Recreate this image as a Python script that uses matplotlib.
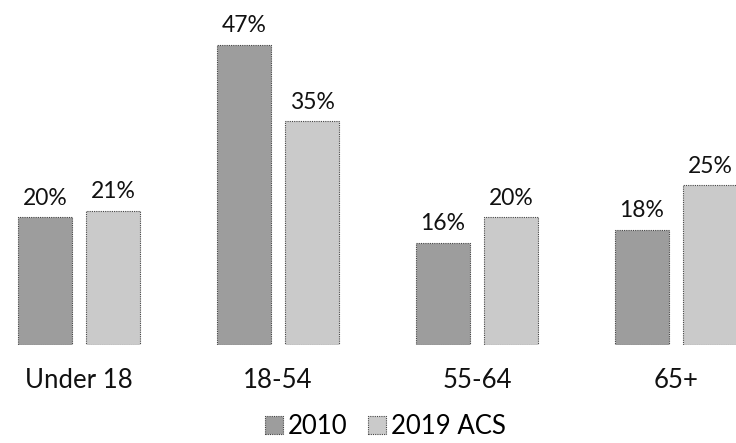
import matplotlib
matplotlib.use("Agg")
import matplotlib.pyplot as plt
import numpy as np

categories = ["Under 18", "18-54", "55-64", "65+"]
series_names = ["2010", "2019 ACS"]
values_2010 = [20, 47, 16, 18]
values_2019 = [21, 35, 20, 25]

plt.rcParams['font.family'] = ['Lato', 'DejaVu Sans']

fig = plt.figure(figsize=(7.36, 4.43), dpi=100)
ax = fig.add_axes([0, 0.221, 1, 0.779])

x = np.arange(len(categories))
w = 0.27
off = 0.171
colors = ["#9d9d9d", "#cacaca"]

for vals, sign, col, name in [(values_2010, -1, colors[0], series_names[0]),
                              (values_2019, 1, colors[1], series_names[1])]:
    bars = ax.bar(x + sign * off, vals, width=w, color=col, edgecolor="#444444",
                  linewidth=0.8, linestyle=(0, (1, 1)), label=name)
    for b, v in zip(bars, vals):
        ax.text(b.get_x() + b.get_width() / 2, v + 2.0, f"{v}%",
                ha="center", va="baseline", fontsize=16.5, color="#111111")

ax.set_xlim(-0.397, 3.302)
ax.set_ylim(0, 54)
ax.axis("off")

for xi, c in zip(x, categories):
    ax.text(xi, -5.5, c, ha="center", va="center", fontsize=18.5, color="#111111")

leg = fig.legend(loc="center", bbox_to_anchor=(0.524, 0.038), ncol=2, frameon=False,
                 fontsize=18.5, handlelength=0.7, handleheight=0.7, handletextpad=0.2,
                 columnspacing=0.8)

fig.savefig("out.png", dpi=100)
